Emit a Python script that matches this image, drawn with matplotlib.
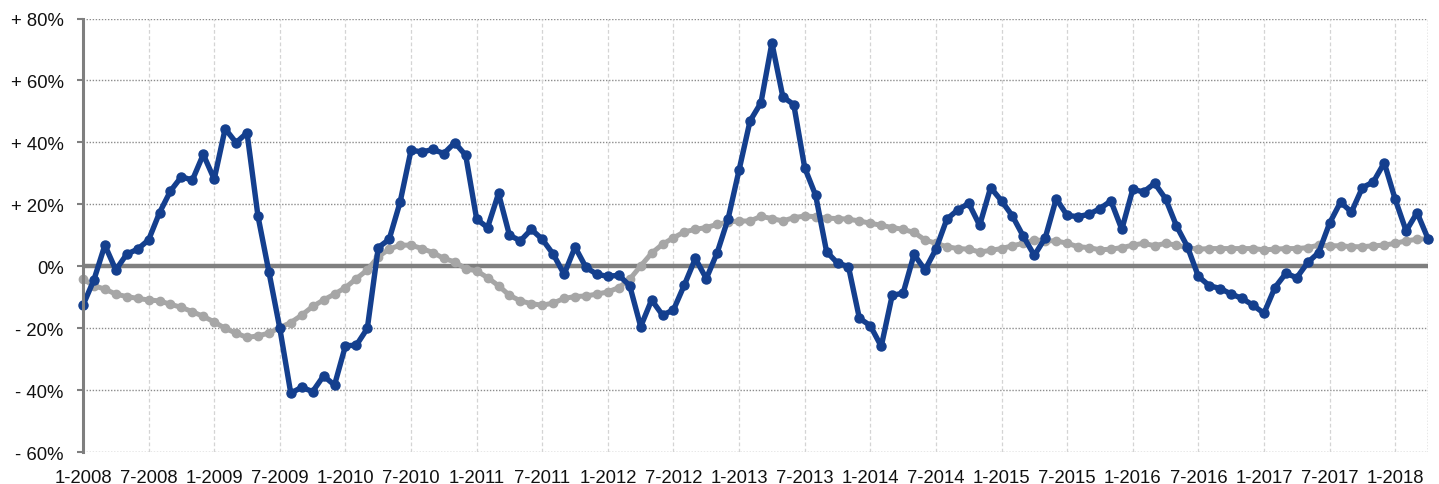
import matplotlib
matplotlib.use("Agg")
import matplotlib.pyplot as plt
import numpy as np

plt.rcParams['font.family'] = ['Liberation Sans', 'DejaVu Sans']

# monthly series, Jan 2008 .. Apr 2018
blue = [-12.6, -4.4, 6.8, -1.2, 3.9, 5.5, 8.5, 17.3, 24.3, 28.9, 27.8, 36.1,
        28.1, 44.4, 39.9, 43.1, 16.2, -1.8, -20.1, -41.0, -39.1, -40.5, -35.4, -38.4,
        -25.7, -25.5, -20.1, 6.0, 8.7, 20.7, 37.5, 36.9, 37.7, 36.4, 39.9, 35.8,
        15.2, 12.5, 23.5, 10.0, 8.2, 11.9, 8.7, 3.9, -2.6, 6.2, -0.4, -2.6,
        -3.3, -2.9, -6.3, -19.5, -10.9, -15.8, -14.1, -6.0, 2.5, -4.0, 4.4, 15.4,
        31.1, 46.9, 52.8, 72.1, 54.7, 52.2, 31.8, 22.9, 4.7, 1.0, -0.1, -16.8,
        -19.2, -25.9, -9.4, -8.7, 3.8, -1.2, 5.5, 15.2, 18.2, 20.3, 13.2, 25.4,
        21.1, 16.2, 9.6, 3.5, 9.2, 21.8, 16.4, 16.0, 16.8, 18.6, 21.1, 11.9,
        24.8, 24.0, 26.8, 21.8, 13.0, 6.3, -3.3, -6.3, -7.2, -9.0, -10.4, -12.6,
        -15.2, -6.9, -2.3, -3.7, 1.2, 4.4, 13.9, 20.7, 17.5, 25.4, 27.2, 33.4,
        21.6, 11.4, 17.3, 8.9]

gray = [-4.2, -6.3, -7.4, -9.0, -9.8, -10.4, -10.9, -11.2, -12.3, -13.3, -14.7, -16.2,
        -18.0, -20.1, -21.6, -23.0, -22.5, -21.6, -19.8, -18.2, -15.8, -13.0, -10.9, -9.0,
        -6.9, -4.0, -1.2, 3.1, 5.5, 6.8, 6.8, 5.7, 4.4, 2.5, 1.4, -0.8,
        -1.5, -3.7, -6.3, -9.4, -11.2, -12.1, -12.6, -11.9, -10.4, -9.8, -9.6, -9.0,
        -8.3, -6.9, -4.2, 0.1, 4.2, 7.1, 9.2, 11.1, 11.9, 12.5, 13.5, 14.3,
        14.6, 14.6, 16.1, 15.4, 14.6, 15.7, 16.2, 16.0, 15.5, 15.4, 15.2, 14.6,
        13.9, 13.2, 12.5, 11.9, 10.9, 8.5, 7.4, 6.3, 5.7, 5.5, 4.6, 5.1,
        5.7, 6.6, 7.4, 8.5, 8.2, 8.2, 7.4, 6.3, 6.0, 5.3, 5.5, 6.0,
        6.8, 7.4, 6.6, 7.4, 6.8, 6.0, 5.5, 5.7, 5.7, 5.7, 5.7, 5.7,
        5.3, 5.5, 5.7, 5.7, 6.0, 6.8, 6.6, 6.6, 6.3, 6.3, 6.6, 6.8,
        7.4, 8.2, 8.7, 8.9]

tick_labels = ['1-2008', '7-2008', '1-2009', '7-2009', '1-2010', '7-2010', '1-2011',
               '7-2011', '1-2012', '7-2012', '1-2013', '7-2013', '1-2014', '7-2014',
               '1-2015', '7-2015', '1-2016', '7-2016', '1-2017', '7-2017', '1-2018']
y_ticks = [-60, -40, -20, 0, 20, 40, 60, 80]
y_labels = ['- 60%', '- 40%', '- 20%', '0%', '+ 20%', '+ 40%', '+ 60%', '+ 80%']

x = np.arange(len(blue))

fig = plt.figure(figsize=(14.39, 4.85), dpi=100)
ax = fig.add_axes([83/1439, 1 - 453/485, (1428 - 83)/1439, (453 - 19.5)/485])

ax.set_xlim(0, len(blue) - 1)
ax.set_ylim(-60, 80)

# grid
for yt in y_ticks:
    if yt != 0:
        ax.axhline(yt, color='#8c8c8c', lw=1.0, ls=(0, (1, 1.2)), zorder=1)
for i in range(len(tick_labels)):
    ax.axvline(i * 6, color='#d4d4d4', lw=0.9, ls=(0, (3, 2)), zorder=1)
ax.axvline(len(blue) - 1, color='#8c8c8c', lw=1.0, ls=(0, (1, 1.2)), zorder=1)
ax.axhline(0, color='#7f7f7f', lw=3.2, zorder=2)

ax.plot(x, gray, color='#a6a6a6', lw=3.6, marker='o', ms=6.0, mec='#a6a6a6',
        mfc='#a6a6a6', zorder=3, clip_on=False)
ax.plot(x, blue, color='#143f8e', lw=3.9, marker='o', ms=6.5, mec='#143f8e',
        mfc='#143f8e', zorder=4, clip_on=False)

for s in ['top', 'right', 'bottom']:
    ax.spines[s].set_visible(False)
ax.spines['left'].set_color('#7f7f7f')
ax.spines['left'].set_linewidth(2.2)
ax.spines['left'].set_zorder(5)

ax.set_yticks(y_ticks)
ax.set_yticklabels(y_labels, fontsize=13.3, color='#111111')
ax.tick_params(axis='y', direction='out', length=4, width=1.5, color='#7f7f7f', pad=10)

ax.set_xticks(np.arange(len(tick_labels)) * 6)
ax.set_xticklabels(tick_labels, fontsize=13.3, color='#111111')
ax.tick_params(axis='x', length=0, pad=12)

fig.savefig('out.png', dpi=100, facecolor='white')
